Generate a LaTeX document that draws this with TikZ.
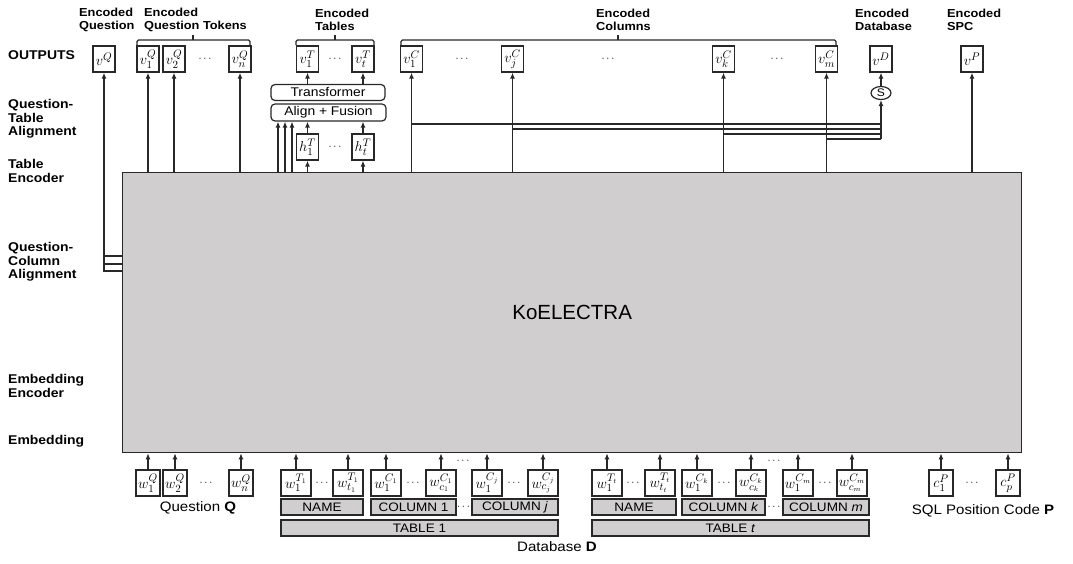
\documentclass[tikz,border=0pt]{standalone}
\usepackage[no-math]{fontspec}
\setmainfont{Liberation Sans}
\newfontfamily\labf[FakeStretch=1.1]{Liberation Sans}
\usetikzlibrary{arrows.meta,shapes.geometric}
\definecolor{kgray}{RGB}{208,206,207}
\definecolor{lncol}{RGB}{40,40,40}
\tikzset{
  arr/.style={-{Latex[length=6pt,width=5pt]}, line width=1.2pt, draw=lncol},
  wire/.style={line width=1.1pt, draw=lncol},
  obox/.style={draw=lncol, line width=1.3pt, fill=white, minimum width=22pt, minimum height=26pt, inner sep=0pt, font=\fontsize{15}{15}\selectfont},
  ibox/.style={obox, minimum width=24pt},
  tbox/.style={obox, minimum width=30pt},
  bar/.style={draw=lncol, line width=1.2pt, fill=kgray, inner sep=0pt, minimum height=16pt, font=\labf\fontsize{12.3}{12.3}\selectfont},
  rbox/.style={draw=lncol, line width=1.2pt, rounded corners=4pt, inner sep=0pt, fill=white, font=\labf\fontsize{12.6}{12.6}\selectfont},
  lab/.style={align=left, font=\labf\bfseries\fontsize{12.7}{13.4}\selectfont, inner sep=0pt, anchor=west},
  tlab/.style={align=left, font=\labf\bfseries\fontsize{11.6}{13}\selectfont, inner sep=0pt, anchor=west},
  blab/.style={font=\labf\fontsize{13.7}{14}\selectfont, inner sep=0pt},
  dts/.style={inner sep=0pt, font=\fontsize{11}{11}\selectfont},
  brace/.style={line width=1.1pt, draw=lncol, rounded corners=1.5pt}
}
\begin{document}
\begin{tikzpicture}[x=1pt,y=-1pt]
\useasboundingbox (0,0) rectangle (1073,564);
% main box
\node[draw=lncol, line width=1.3pt, fill=kgray, minimum width=899pt, minimum height=280pt, inner sep=0pt, anchor=north west, font=\fontsize{20.5}{20.5}\selectfont] (ke) at (122,172) {KoELECTRA};

% left labels
\node[lab] (lo) at (8,55) {OUTPUTS};
\node[lab] (lqt) at (8,119) {Question-\\Table\\Alignment};
\node[lab] (lte) at (8,171) {Table\\Encoder};
\node[lab] (lqc) at (8,262) {Question-\\Column\\Alignment};
\node[lab] (lee) at (8,386) {Embedding\\Encoder};
\node[lab] (lem) at (8,441) {Embedding};

% top labels
\node[tlab] (teq) at (79,19.5) {Encoded\\Question};
\node[tlab] (teqt) at (144,19.5) {Encoded\\Question Tokens};
\node[tlab] (tet) at (315,19.5) {Encoded\\Tables};
\node[tlab] (tec) at (596,19.5) {Encoded\\Columns};
\node[tlab] (ted) at (855,19.5) {Encoded\\Database};
\node[tlab] (tes) at (947,19.5) {Encoded\\SPC};

% braces
\draw[brace] (137,45) -- (137,40) -- (250,40) -- (250,45);
\draw[wire] (193,40) -- (193,35);
\draw[brace] (296,45) -- (296,40) -- (374,40) -- (374,45);
\draw[wire] (335,40) -- (335,35);
\draw[brace] (401,45) -- (401,40) -- (836,40) -- (836,45);
\draw[wire] (618,40) -- (618,35);

% outputs
\node[obox] (vQ) at (104,59) {$v^{Q}$};
\node[obox] (vq1) at (148,59) {$v_1^{Q}$};
\node[obox] (vq2) at (174,59) {$v_2^{Q}$};
\node[dts] (od1) at (205,59) {$\cdots$};
\node[obox] (vqn) at (240,59) {$v_n^{Q}$};
\node[obox] (vt1) at (307.5,59) {$v_1^{T}$};
\node[dts] (od2) at (335,59) {$\cdots$};
\node[obox] (vtt) at (363,59) {$v_t^{T}$};
\node[obox] (vc1) at (411.5,59) {$v_1^{C}$};
\node[dts] (od3) at (462,59) {$\cdots$};
\node[obox] (vcj) at (512.5,59) {$v_j^{C}$};
\node[dts] (od4) at (608,59) {$\cdots$};
\node[obox] (vck) at (723.5,59) {$v_k^{C}$};
\node[dts] (od5) at (777,59) {$\cdots$};
\node[obox] (vcm) at (826.5,59) {$v_m^{C}$};
\node[obox] (vD) at (881,59) {$v^{D}$};
\node[obox] (vP) at (972,59) {$v^{P}$};

% S node
\node[ellipse, draw=lncol, line width=1.2pt, minimum width=20pt, minimum height=13pt, inner sep=0pt, fill=white, font=\labf\fontsize{11}{11}\selectfont] (S) at (881,93) {S};

% transformer / align
\node[rbox, minimum width=114pt, minimum height=16pt] (tr) at (328,92.5) {Transformer};
\node[rbox, minimum width=115pt, minimum height=17pt] (af) at (328.5,112.5) {Align + Fusion};
\node[obox] (h1) at (307.5,147) {$h_1^{T}$};
\node[dts] (hd) at (335,147) {$\cdots$};
\node[obox] (ht) at (363,147) {$h_t^{T}$};

% arrows to outputs
\foreach \n in {vq1,vq2,vqn,vc1,vcj,vck,vcm,vP}
  \draw[arr] (ke.north -| \n) -- (\n);
\draw[arr] (vt1 |- tr.north) -- (vt1);
\draw[arr] (vtt |- tr.north) -- (vtt);
\draw[arr] (ke.north -| h1) -- (h1);
\draw[arr] (ke.north -| ht) -- (ht);
\draw[arr] (h1) -- (h1 |- af.south);
\draw[arr] (ht) -- (ht |- af.south);
\coordinate (a1) at (278,0);
\coordinate (a2) at (285,0);
\coordinate (a3) at (292,0);
\foreach \c in {a1,a2,a3}
  \draw[arr] (ke.north -| \c) -- (af.south -| \c);

% columns to S
\coordinate (y1) at (0,124);
\coordinate (y2) at (0,129);
\coordinate (y3) at (0,134);
\coordinate (y4) at (0,139);
\draw[wire] (vc1 |- y1) -- (S |- y1);
\draw[wire] (vcj |- y2) -- (S |- y2);
\draw[wire] (vck |- y3) -- (S |- y3);
\draw[wire] (vcm |- y4) -- (S |- y4);
\draw[arr] (S |- y4) -- (S);
\draw[arr] (S) -- (vD);

% question-column alignment
\coordinate (qc1) at (104,256);
\coordinate (qc2) at (104,264);
\coordinate (qc3) at (104,271);
\draw[wire] (ke.west |- qc1) -- (qc1);
\draw[wire] (ke.west |- qc2) -- (qc2);
\draw[arr] (ke.west |- qc3) -- (qc3) -- (vQ);

% inputs
\node[ibox] (wq1) at (148,483) {$w_1^{Q}$};
\node[ibox] (wq2) at (175,483) {$w_2^{Q}$};
\node[dts] (id1) at (206,483) {$\cdots$};
\node[ibox] (wqn) at (241,483) {$w_n^{Q}$};
\node[tbox] (wa1) at (296,483) {$w_1^{T_1}$};
\node[dts] (id2) at (322,483) {$\cdots$};
\node[tbox] (wa2) at (348,483) {$w_{t_1}^{T_1}$};
\node[tbox] (wb1) at (386,483) {$w_1^{C_1}$};
\node[dts] (id3) at (413,483) {$\cdots$};
\node[tbox] (wb2) at (441,483) {$w_{c_1}^{C_1}$};
\node[tbox] (wc1) at (487,483) {$w_1^{C_j}$};
\node[dts] (id4) at (514,483) {$\cdots$};
\node[tbox] (wc2) at (543,483) {$w_{c_j}^{C_j}$};
\node[dts] (id5) at (463,461) {$\cdots$};
\node[tbox] (wd1) at (607,483) {$w_1^{T_t}$};
\node[dts] (id6) at (633,483) {$\cdots$};
\node[tbox] (wd2) at (660,483) {$w_{t_t}^{T_t}$};
\node[tbox] (we1) at (697,483) {$w_1^{C_k}$};
\node[dts] (id7) at (724,483) {$\cdots$};
\node[tbox] (we2) at (751,483) {$w_{c_k}^{C_k}$};
\node[dts] (id8) at (774,461) {$\cdots$};
\node[tbox] (wf1) at (798,483) {$w_1^{C_m}$};
\node[dts] (id9) at (825,483) {$\cdots$};
\node[tbox] (wf2) at (852,483) {$w_{c_m}^{C_m}$};
\node[ibox] (cp1) at (941,483) {$c_1^{P}$};
\node[dts] (id10) at (972,483) {$\cdots$};
\node[ibox] (cpp) at (1008,483) {$c_p^{P}$};
\foreach \n in {wq1,wq2,wqn,wa1,wa2,wb1,wb2,wc1,wc2,wd1,wd2,we1,we2,wf1,wf2,cp1,cpp}
  \draw[arr] (\n) -- (\n |- ke.south);

% bars
\node[bar, minimum width=82pt] (n1) at (322,507) {NAME};
\node[bar, minimum width=85pt] (c1) at (413.5,507) {COLUMN 1};
\node[dts] (bd1) at (463.5,507) {$\cdots$};
\node[bar, minimum width=86pt] (cj) at (515,507) {COLUMN \textit{j}};
\node[bar, minimum width=277pt] (t1) at (419.5,528) {TABLE 1};
\node[bar, minimum width=84pt] (n2) at (634,507) {NAME};
\node[bar, minimum width=83pt] (ck) at (723.5,507) {COLUMN \textit{k}};
\node[dts] (bd2) at (774,507) {$\cdots$};
\node[bar, minimum width=86pt] (cm) at (826,507) {COLUMN \textit{m}};
\node[bar, minimum width=277pt] (tt) at (730.5,528) {TABLE \textit{t}};

% bottom labels
\node[blab] (lq) at (198,508) {Question \textbf{Q}};
\node[blab] (ld) at (557,547) {Database \textbf{D}};
\node[blab] (lp) at (983,511) {SQL Position Code \textbf{P}};
\end{tikzpicture}
\end{document}
